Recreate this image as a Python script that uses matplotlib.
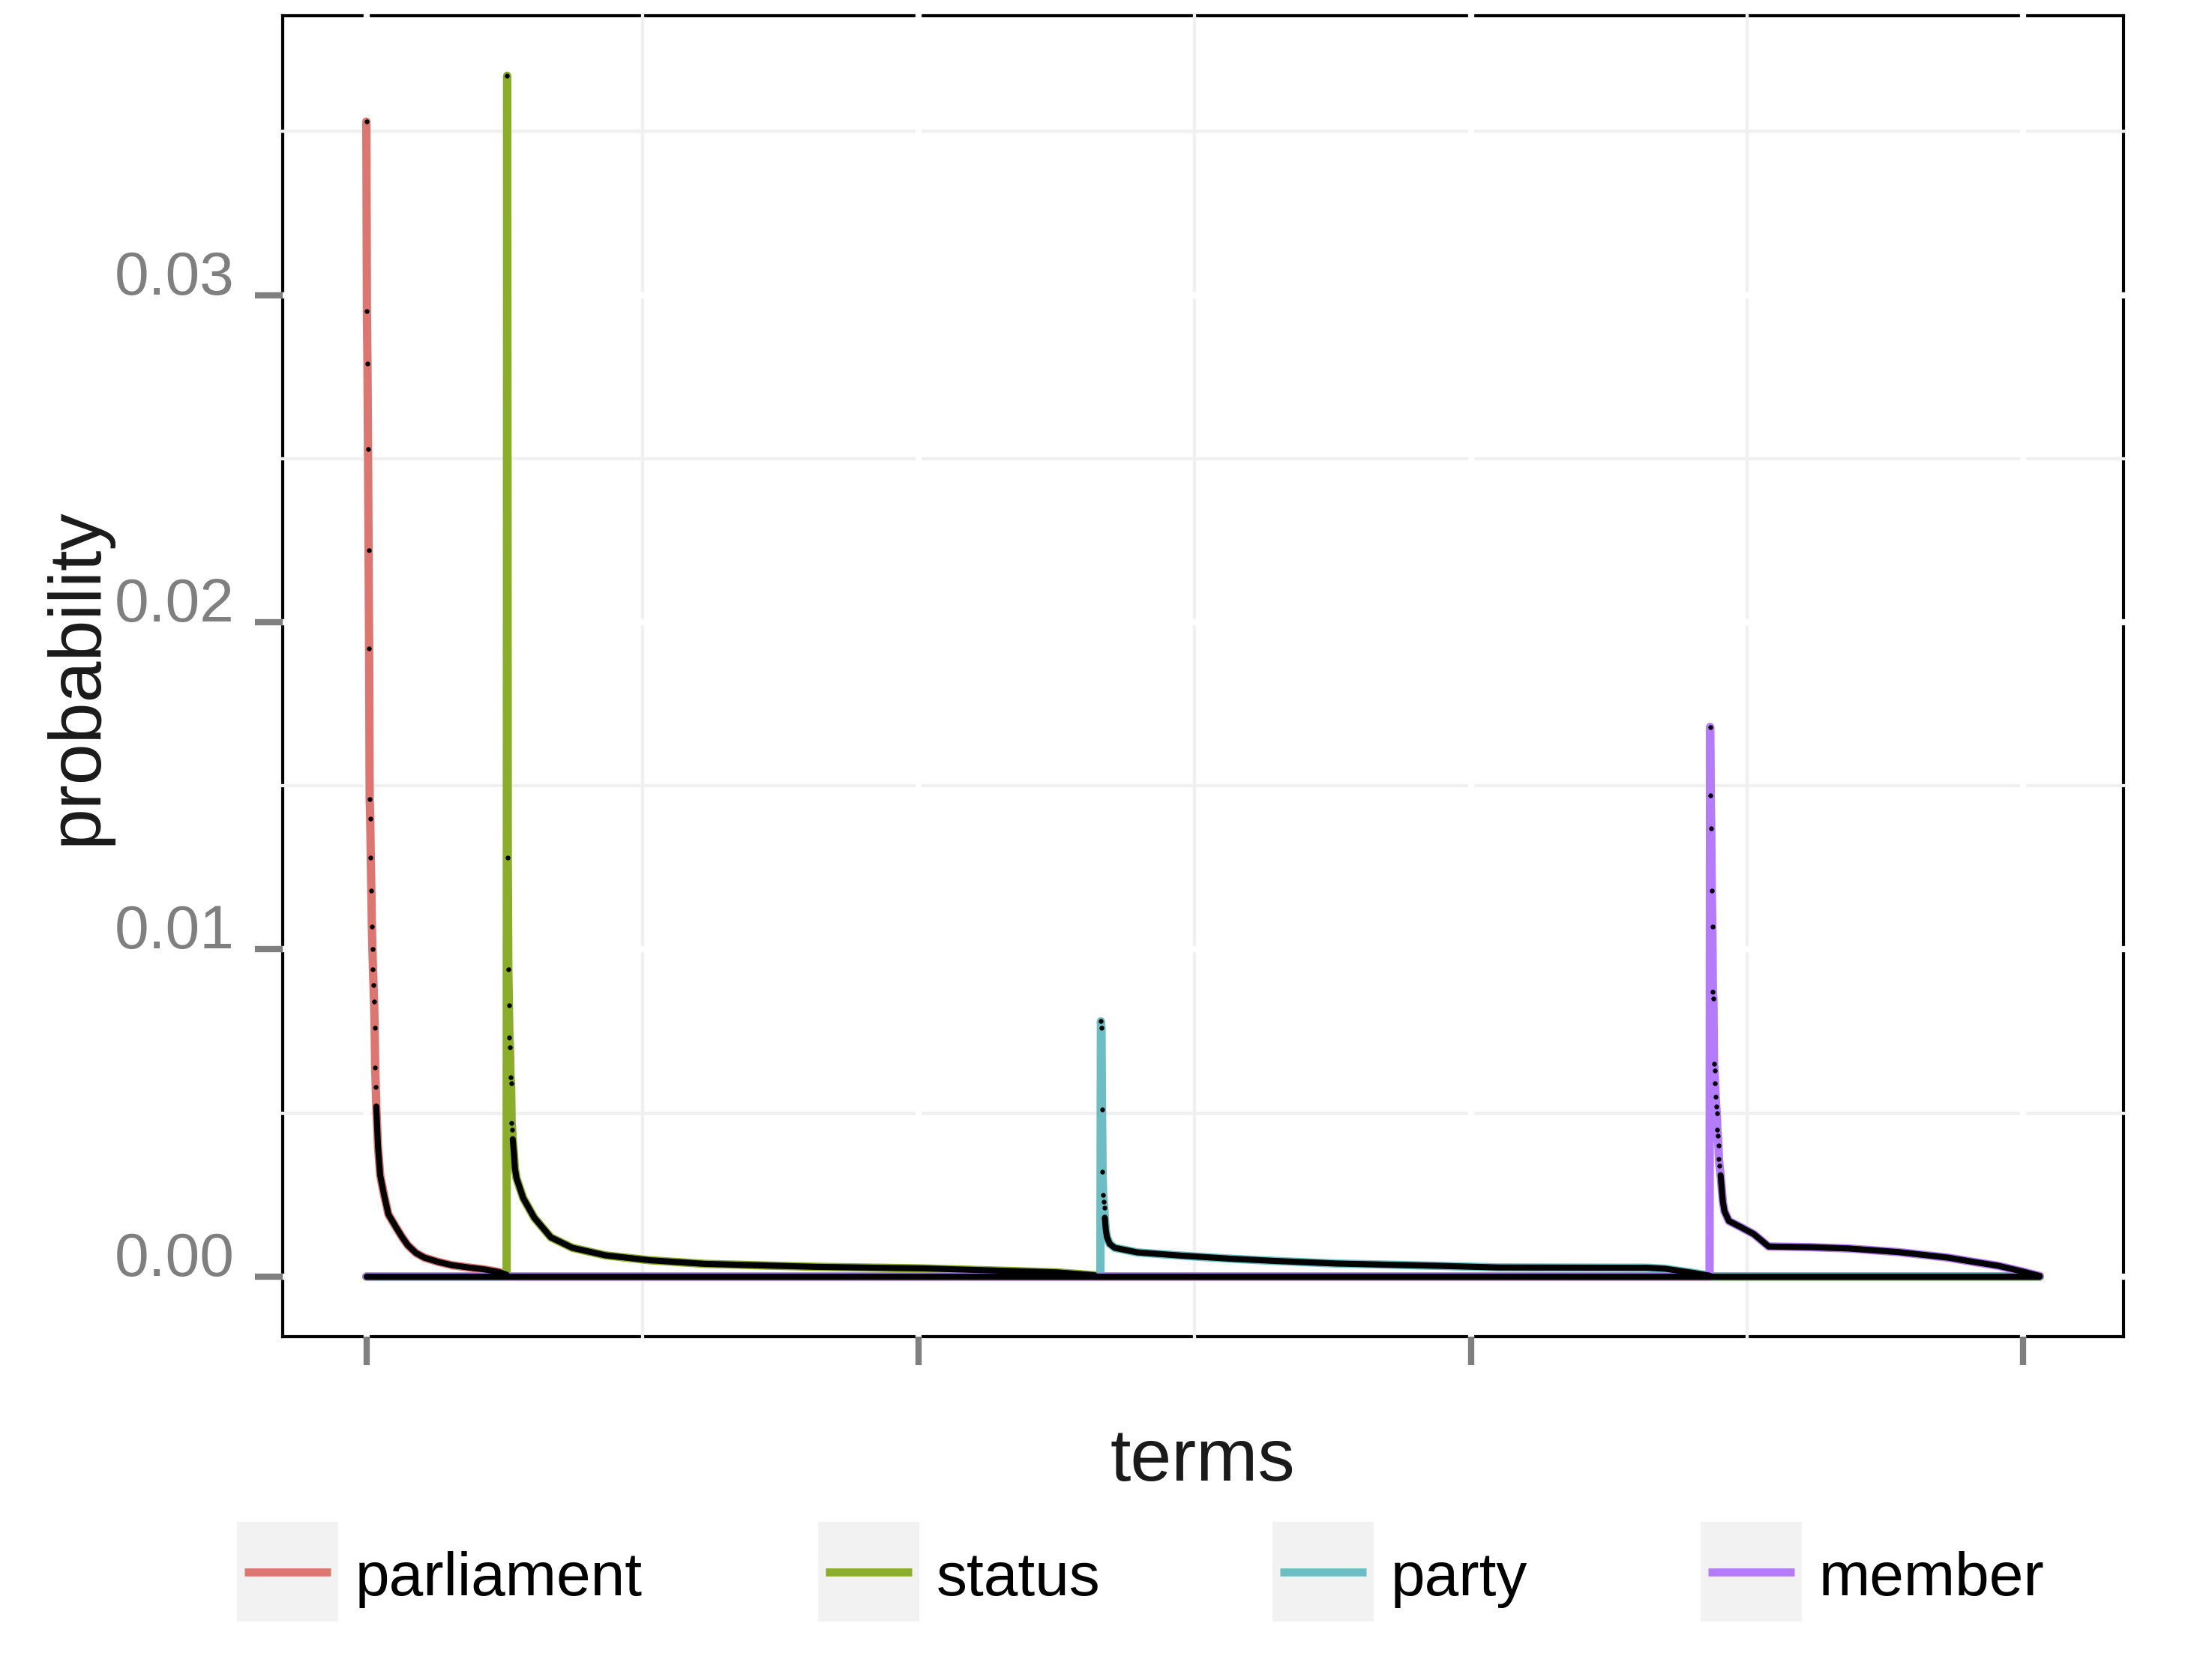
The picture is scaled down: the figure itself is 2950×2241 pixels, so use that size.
import numpy as np
import matplotlib
matplotlib.use("Agg")
import matplotlib.pyplot as plt
from matplotlib.lines import Line2D
from matplotlib.patches import Rectangle
from matplotlib.transforms import ScaledTranslation

plt.rcParams["font.family"] = ["Liberation Sans", "DejaVu Sans"]

# ---- data (term rank on x, topic-term probability on y) ----
TOPICS = ["parliament", "status", "party", "member"]
COLORS = ["#DD7570", "#8AAD2A", "#6CBEC4", "#B47CFA"]
LAST_TERM = 3030

# first terms of each topic block, one value per consecutive rank
parliament_start = 0
parliament_top = [0.0353, 0.0295, 0.0279, 0.0253, 0.0222, 0.0192, 0.0146, 0.0140,
                  0.0128, 0.0118, 0.0107, 0.0100, 0.0094, 0.0089, 0.0084, 0.0076,
                  0.0064, 0.0058]
parliament_tail_idx = [18, 21, 25, 32, 40, 54, 65, 75, 90, 105, 130, 155, 185, 214, 240, 254]
parliament_tail_prob = [0.0052, 0.0040, 0.0031, 0.0025, 0.0019, 0.0015, 0.0012, 0.00096,
                        0.00072, 0.00058, 0.00045, 0.00035, 0.00028, 0.00022, 0.00014, 0.00006]

status_start = 255
status_top = [0.0367, 0.0128, 0.0094, 0.0083, 0.0073, 0.0070, 0.0061, 0.0059, 0.0047, 0.0045]
status_tail_idx = [265, 267, 269, 272, 284, 304, 334, 373, 433, 513, 612, 812, 1010, 1110, 1250, 1319]
status_tail_prob = [0.0042, 0.0038, 0.0033, 0.0030, 0.0024, 0.0018, 0.0012, 0.00088,
                    0.00065, 0.0005, 0.00039, 0.0003, 0.00025, 0.0002, 0.00013, 0.00004]

party_start = 1330
party_top = [0.0078, 0.0076, 0.0051, 0.0032, 0.0025, 0.0023, 0.0021]
party_tail_idx = [1337, 1339, 1341, 1346, 1355, 1396, 1477, 1562, 1644, 1756, 1941, 2049,
                  2319, 2352, 2400, 2432]
party_tail_prob = [0.0018, 0.0014, 0.0012, 0.0010, 0.00088, 0.00074, 0.00064, 0.00055,
                   0.00048, 0.0004, 0.00033, 0.00028, 0.00027, 0.00024, 0.00012, 0.00003]

member_start = 2433
member_top = [0.0168, 0.0147, 0.0137, 0.0118, 0.0107, 0.0087, 0.0085, 0.0065, 0.0063,
              0.0059, 0.0055, 0.0052, 0.0050, 0.0045, 0.0043, 0.0040, 0.0036, 0.0034]
member_tail_idx = [2452, 2454, 2456, 2459, 2467, 2490, 2512, 2539, 2616, 2684, 2774, 2864,
                   2910, 2955, 3000, 3030]
member_tail_prob = [0.0031, 0.0027, 0.0023, 0.0020, 0.0017, 0.0015, 0.0013, 0.00092,
                    0.0009, 0.00086, 0.00075, 0.00058, 0.00045, 0.00033, 0.00015, 0.00002]

X_TICKS = [0, 1000, 2000, 3000]
X_MINOR = [500, 1500, 2500]
Y_TICKS = [0.00, 0.01, 0.02, 0.03]
Y_TICK_LABELS = ["0.00", "0.01", "0.02", "0.03"]
Y_MINOR = [0.005, 0.015, 0.025, 0.035]

series = [
    (parliament_start, parliament_top, parliament_tail_idx, parliament_tail_prob),
    (status_start, status_top, status_tail_idx, status_tail_prob),
    (party_start, party_top, party_tail_idx, party_tail_prob),
    (member_start, member_top, member_tail_idx, member_tail_prob),
]

W_PX, H_PX = 2950, 2241
fig = plt.figure(figsize=(W_PX / 100, H_PX / 100), dpi=100)
ax = fig.add_axes([377 / W_PX, 1 - 1783 / H_PX, (2832 - 377) / W_PX, (1783 - 21) / H_PX])

GREY = "#7F7F7F"

for i, (start, top, tidx, tprob) in enumerate(series):
    top_idx = list(range(start, start + len(top)))
    end = tidx[-1]
    x, y = [], []
    if start > 0:
        x += [0, start - 1]
        y += [0, 0]
    x += top_idx + tidx
    y += top + tprob
    if end < LAST_TERM:
        x += [end + 1, LAST_TERM]
        y += [0, 0]
    ax.plot(x, y, color=COLORS[i], lw=8.0, solid_capstyle="round",
            solid_joinstyle="round", zorder=3 + i)

# black points: sparse on the steep heads, dense (merged) along tails and zeros
ax.plot([0, LAST_TERM], [0, 0], color="black", lw=6.0, solid_capstyle="round", zorder=10)
for start, top, tidx, tprob in series:
    tx = tidx + ([tidx[-1] + 1] if tidx[-1] < LAST_TERM else [])
    ty = tprob + ([0] if tidx[-1] < LAST_TERM else [])
    ax.plot(tx, ty, color="black", lw=5.8, solid_capstyle="round",
            solid_joinstyle="round", zorder=10)
    ax.plot(range(start, start + len(top)), top, "o", ms=4.6, color="black",
            mec="none", zorder=11)

# limits with 5% expansion like ggplot
all_prob = np.concatenate([np.r_[t, p] for _, t, _, p in series])
ymax = all_prob.max()
ax.set_ylim(-0.05 * ymax, ymax * 1.05)
ax.set_xlim(-0.05 * LAST_TERM, LAST_TERM * 1.05)

# grid: light minor, white major, both running across the frame
for v in X_MINOR:
    ax.axvline(v, color="#F0F0F0", lw=3.1, zorder=1, clip_on=False, solid_capstyle="projecting")
for v in Y_MINOR:
    ax.axhline(v, color="#F0F0F0", lw=3.1, zorder=1, clip_on=False, solid_capstyle="projecting")
for v in X_TICKS:
    ax.axvline(v, color="white", lw=6.0, zorder=1.5, clip_on=False, solid_capstyle="projecting")
for v in Y_TICKS:
    ax.axhline(v, color="white", lw=6.0, zorder=1.5, clip_on=False, solid_capstyle="projecting")

for sp in ax.spines.values():
    sp.set_linewidth(3.0)
    sp.set_color("black")
    sp.set_zorder(0.5)

ax.set_xticks(X_TICKS)
ax.set_xticklabels([])
ax.set_yticks(Y_TICKS)
ax.set_yticklabels(Y_TICK_LABELS)
ax.tick_params(axis="both", direction="out", length=27, width=6, color=GREY,
               labelsize=59, labelcolor=GREY, pad=19)
off = ScaledTranslation(0, 0.01, fig.dpi_scale_trans)
for lab in ax.get_yticklabels():
    lab.set_verticalalignment("baseline")
    lab.set_transform(lab.get_transform() + off)

fig.text(1604 / W_PX, 1 - 1975 / H_PX, "terms", fontsize=71, ha="center",
         va="baseline", color="#1A1A1A")
fig.text(103 / W_PX, 1 - 902 / H_PX, "probability", fontsize=71, ha="center",
         va="center", rotation=90, color="#1A1A1A")

# legend along the bottom
KEY_LEFT = [316, 1091, 1697, 2268]
KEY_W, KEY_TOP, KEY_BOT = 135, 2030, 2163
for i, name in enumerate(TOPICS):
    x0 = KEY_LEFT[i]
    fig.add_artist(Rectangle((x0 / W_PX, 1 - KEY_BOT / H_PX), KEY_W / W_PX,
                             (KEY_BOT - KEY_TOP) / H_PX, transform=fig.transFigure,
                             facecolor="#F2F2F2", edgecolor="none"))
    fig.add_artist(Line2D([(x0 + 10) / W_PX, (x0 + 125) / W_PX],
                          [1 - 2097 / H_PX, 1 - 2097 / H_PX], transform=fig.transFigure,
                          color=COLORS[i], lw=7.7, solid_capstyle="butt"))
    fig.text((x0 + 158) / W_PX, 1 - 2128 / H_PX, name, fontsize=59, va="baseline",
             color="black")

fig.savefig("out.png", dpi=100)
